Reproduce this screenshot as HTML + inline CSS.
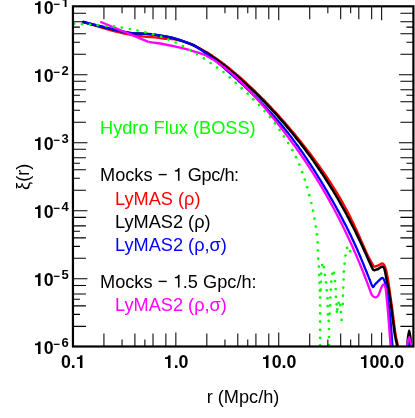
<!DOCTYPE html><html><head><meta charset="utf-8"><style>html,body{margin:0;padding:0;background:#fff;overflow:hidden}svg{display:block;position:absolute;left:0;top:0;will-change:transform}text{font-family:"Liberation Sans",sans-serif}</style></head><body>
<svg width="415" height="418" viewBox="0 0 415 418">
<rect width="415" height="418" fill="#fff"/>
<defs><clipPath id="c"><rect x="72.95" y="6.30" width="340.45" height="340.20"/></clipPath></defs>
<g clip-path="url(#c)">
<path d="M82.6,22.0 C86.9,23.3 101.5,27.7 108.7,29.7 C115.9,31.7 120.0,32.8 125.6,33.9 C131.2,35.0 137.3,35.7 142.5,36.3 C147.7,36.9 153.1,37.2 156.9,37.6 C160.7,38.0 162.3,38.5 165.3,38.8 C168.3,39.1 170.8,38.6 175.0,39.4 C179.2,40.2 186.6,42.4 190.6,43.8 C194.6,45.2 196.9,46.9 199.0,48.0 C201.1,49.1 201.9,49.5 203.3,50.3 C204.7,51.0 206.0,51.8 207.3,52.6 C208.6,53.4 209.9,54.2 211.2,55.1 C212.5,55.9 213.7,56.8 215.0,57.6 C216.2,58.5 217.5,59.4 218.7,60.3 C219.9,61.1 221.1,62.0 222.4,63.0 C223.6,63.9 224.8,64.8 225.9,65.7 C227.1,66.6 228.3,67.6 229.5,68.5 C230.7,69.5 231.8,70.4 233.0,71.4 C234.1,72.4 235.3,73.3 236.4,74.3 C237.6,75.3 238.7,76.3 239.8,77.2 C241.0,78.2 242.1,79.2 243.2,80.2 C244.3,81.2 245.4,82.2 246.5,83.2 C247.6,84.3 248.7,85.3 249.8,86.3 C250.9,87.3 252.0,88.3 253.1,89.4 C254.2,90.4 255.3,91.4 256.3,92.5 C257.4,93.5 258.5,94.6 259.5,95.6 C260.6,96.7 261.6,97.8 262.7,98.8 C263.8,99.9 264.8,100.9 265.8,102.0 C266.9,103.1 267.9,104.2 269.0,105.3 C270.0,106.3 271.0,107.4 272.0,108.5 C273.1,109.6 274.1,110.7 275.1,111.8 C276.1,112.9 277.1,114.0 278.1,115.1 C279.1,116.2 280.1,117.4 281.1,118.5 C282.1,119.6 283.1,120.7 284.1,121.8 C285.1,123.0 286.1,124.1 287.1,125.2 C288.1,126.4 289.0,127.5 290.0,128.7 C291.0,129.8 291.9,131.0 292.9,132.1 C293.9,133.3 294.8,134.4 295.8,135.6 C296.7,136.8 297.7,137.9 298.6,139.1 C299.6,140.3 300.5,141.4 301.5,142.6 C302.4,143.8 303.3,145.0 304.3,146.2 C305.2,147.3 306.1,148.5 307.0,149.7 C308.0,150.9 308.9,152.1 309.8,153.3 C310.7,154.5 311.6,155.7 312.5,156.9 C313.4,158.2 314.3,159.4 315.2,160.6 C316.1,161.8 317.0,163.0 317.9,164.3 C318.8,165.5 319.7,166.7 320.5,168.0 C321.4,169.2 322.3,170.5 323.2,171.7 C324.0,173.0 324.9,174.2 325.7,175.5 C326.6,176.7 327.5,178.0 328.3,179.3 C329.1,180.6 330.0,181.8 330.8,183.1 C331.6,184.4 332.5,185.7 333.3,187.0 C334.1,188.3 334.9,189.6 335.7,190.9 C336.5,192.2 337.3,193.5 338.1,194.9 C338.9,196.2 339.7,197.5 340.5,198.9 C341.2,200.2 342.0,201.5 342.8,202.9 C343.5,204.3 344.3,205.6 345.0,207.0 C345.8,208.4 346.5,209.7 347.2,211.1 C348.0,212.5 348.7,213.9 349.4,215.3 C350.1,216.7 350.8,218.1 351.5,219.6 C352.2,221.0 352.9,222.4 353.6,223.8 C354.3,225.3 355.0,226.7 355.6,228.2 C356.3,229.6 357.0,231.0 357.6,232.5 C358.3,234.0 358.9,235.4 359.6,236.9 C360.2,238.4 360.9,239.8 361.5,241.3 C362.2,242.8 362.8,244.2 363.5,245.7 C364.1,247.2 364.7,248.7 365.4,250.1 C366.0,251.6 366.8,253.3 367.4,254.5 C367.9,255.7 367.7,255.6 368.7,257.4 C369.7,259.3 372.4,264.1 373.3,265.6 C374.2,267.1 373.8,266.6 374.3,266.7 C374.8,266.8 375.4,266.3 376.1,266.1 C376.8,265.9 377.8,265.7 378.5,265.4 C379.2,265.1 379.9,264.5 380.5,264.1 C381.1,263.8 381.7,263.2 382.3,263.3 C382.9,263.4 383.6,264.1 384.2,264.9 C384.8,265.7 385.2,266.9 385.6,268.3 C386.1,269.7 386.4,270.9 386.9,273.5 C387.4,276.1 388.2,280.9 388.7,283.7 C389.1,286.4 389.2,287.4 389.6,290.0 C390.0,292.6 390.4,296.2 390.9,299.3 C391.3,302.4 391.9,305.7 392.3,308.9 C392.7,312.1 392.9,314.3 393.5,318.6 C394.1,322.9 395.1,331.1 395.7,334.9 C396.3,338.7 396.6,339.6 397.0,341.3 C397.4,343.1 397.6,343.6 397.8,345.4 C398.0,347.2 398.3,350.9 398.4,352.0" fill="none" stroke="#ff0000" stroke-width="2.3" stroke-linejoin="round"/>
<path d="M82.6,21.8 C86.9,22.9 101.5,26.7 108.7,28.4 C115.9,30.1 121.4,31.4 125.6,32.2 C129.8,33.0 130.8,33.1 134.0,33.4 C137.2,33.7 141.2,33.5 145.0,33.8 C148.8,34.1 152.1,34.4 156.9,35.1 C161.7,35.8 168.1,36.7 173.7,38.2 C179.3,39.7 186.4,42.3 190.6,44.0 C194.8,45.7 196.9,47.2 199.0,48.4 C201.1,49.6 202.0,50.2 203.4,51.0 C204.8,51.8 206.0,52.6 207.3,53.4 C208.6,54.3 209.9,55.1 211.2,56.0 C212.5,56.8 213.7,57.7 215.0,58.6 C216.2,59.4 217.4,60.3 218.7,61.2 C219.9,62.1 221.1,63.0 222.3,64.0 C223.5,64.9 224.7,65.8 225.9,66.8 C227.1,67.7 228.3,68.6 229.4,69.6 C230.6,70.6 231.8,71.5 232.9,72.5 C234.1,73.5 235.2,74.4 236.4,75.4 C237.5,76.4 238.6,77.4 239.8,78.4 C240.9,79.4 242.0,80.4 243.1,81.4 C244.2,82.4 245.4,83.4 246.5,84.4 C247.6,85.4 248.7,86.5 249.8,87.5 C250.9,88.5 252.0,89.6 253.0,90.6 C254.1,91.6 255.2,92.7 256.3,93.7 C257.4,94.8 258.4,95.8 259.5,96.9 C260.5,98.0 261.6,99.0 262.7,100.1 C263.7,101.2 264.8,102.2 265.8,103.3 C266.9,104.4 267.9,105.5 268.9,106.6 C270.0,107.7 271.0,108.8 272.0,109.9 C273.0,111.0 274.1,112.1 275.1,113.2 C276.1,114.3 277.1,115.4 278.1,116.5 C279.1,117.7 280.1,118.8 281.1,119.9 C282.1,121.0 283.1,122.2 284.1,123.3 C285.0,124.5 286.0,125.6 287.0,126.8 C288.0,127.9 288.9,129.1 289.9,130.2 C290.9,131.4 291.8,132.6 292.8,133.7 C293.7,134.9 294.7,136.1 295.6,137.3 C296.6,138.4 297.5,139.6 298.4,140.8 C299.4,142.0 300.3,143.2 301.2,144.4 C302.2,145.6 303.1,146.8 304.0,148.0 C304.9,149.2 305.8,150.4 306.7,151.7 C307.6,152.9 308.5,154.1 309.4,155.3 C310.3,156.6 311.2,157.8 312.1,159.0 C313.0,160.3 313.9,161.5 314.7,162.8 C315.6,164.0 316.5,165.3 317.3,166.5 C318.2,167.8 319.1,169.1 319.9,170.3 C320.8,171.6 321.6,172.9 322.5,174.1 C323.3,175.4 324.2,176.7 325.0,178.0 C325.8,179.3 326.7,180.6 327.5,181.9 C328.3,183.2 329.1,184.5 330.0,185.8 C330.8,187.1 331.6,188.4 332.4,189.7 C333.2,191.0 334.0,192.4 334.8,193.7 C335.6,195.0 336.4,196.4 337.2,197.7 C338.0,199.0 338.7,200.4 339.5,201.7 C340.3,203.1 341.1,204.4 341.8,205.8 C342.6,207.2 343.3,208.5 344.1,209.9 C344.9,211.3 345.6,212.6 346.3,214.0 C347.1,215.4 347.8,216.8 348.6,218.2 C349.3,219.6 350.0,221.0 350.7,222.4 C351.5,223.8 352.2,225.2 352.9,226.6 C353.6,228.0 354.3,229.4 355.0,230.8 C355.7,232.3 356.4,233.7 357.1,235.1 C357.8,236.6 358.5,238.0 359.2,239.4 C359.9,240.9 360.5,242.3 361.2,243.8 C361.9,245.2 362.6,246.7 363.2,248.1 C363.9,249.6 364.6,251.1 365.2,252.5 C365.9,254.0 366.5,255.5 367.2,256.9 C367.8,258.4 368.8,260.6 369.1,261.3 C369.5,262.1 368.6,260.1 369.1,261.3 C369.7,262.6 371.9,267.5 372.6,268.9 C373.3,270.3 373.2,269.8 373.5,270.0 C373.8,270.2 374.2,270.3 374.6,270.2 C375.0,270.1 375.5,269.8 376.1,269.6 C376.8,269.4 377.8,269.2 378.5,268.8 C379.2,268.4 379.9,267.9 380.5,267.5 C381.1,267.1 381.6,266.4 382.2,266.4 C382.8,266.4 383.4,266.8 383.9,267.6 C384.4,268.4 384.6,269.6 385.0,271.3 C385.4,273.0 385.8,275.4 386.2,277.6 C386.6,279.8 387.1,282.5 387.5,284.5 C387.9,286.5 388.3,287.1 388.7,289.6 C389.1,292.1 389.6,296.1 390.1,299.3 C390.6,302.5 391.1,305.7 391.5,308.9 C391.9,312.1 392.1,314.3 392.7,318.6 C393.3,322.9 394.3,331.1 394.9,334.9 C395.5,338.7 395.8,339.6 396.2,341.3 C396.6,343.1 396.8,343.6 397.0,345.4 C397.2,347.2 397.5,350.9 397.6,352.0" fill="none" stroke="#000" stroke-width="2.5" stroke-linejoin="round"/>
<path d="M82.6,21.8 C86.9,22.9 101.5,26.7 108.7,28.4 C115.9,30.1 121.4,31.4 125.6,32.2 C129.8,33.0 130.8,33.1 134.0,33.4 C137.2,33.7 141.2,33.5 145.0,33.8 C148.8,34.1 152.1,34.4 156.9,35.1 C161.7,35.8 168.1,36.7 173.7,38.2 C179.3,39.7 186.4,42.3 190.6,44.0 C194.8,45.7 196.9,47.1 199.0,48.4 C201.1,49.7 202.1,50.6 203.4,51.6 C204.8,52.6 206.0,53.5 207.3,54.4 C208.6,55.4 209.8,56.3 211.1,57.3 C212.3,58.2 213.6,59.2 214.8,60.2 C216.0,61.2 217.2,62.2 218.5,63.2 C219.7,64.2 220.9,65.2 222.1,66.2 C223.3,67.3 224.4,68.3 225.6,69.3 C226.8,70.3 228.0,71.4 229.2,72.4 C230.4,73.5 231.5,74.5 232.7,75.5 C233.9,76.6 235.0,77.6 236.2,78.7 C237.4,79.7 238.5,80.8 239.7,81.9 C240.8,82.9 242.0,84.0 243.1,85.0 C244.3,86.1 245.4,87.2 246.6,88.3 C247.7,89.3 248.8,90.4 250.0,91.5 C251.1,92.6 252.2,93.7 253.3,94.8 C254.5,95.8 255.6,96.9 256.7,98.0 C257.8,99.2 258.9,100.3 260.0,101.4 C261.1,102.5 262.2,103.6 263.3,104.7 C264.4,105.9 265.5,107.0 266.5,108.1 C267.6,109.3 268.7,110.4 269.7,111.6 C270.8,112.7 271.9,113.9 272.9,115.1 C274.0,116.2 275.0,117.4 276.0,118.6 C277.1,119.8 278.1,120.9 279.1,122.1 C280.1,123.3 281.1,124.5 282.1,125.7 C283.1,127.0 284.1,128.2 285.1,129.4 C286.1,130.6 287.1,131.9 288.1,133.1 C289.0,134.3 290.0,135.6 291.0,136.8 C291.9,138.1 292.9,139.4 293.8,140.6 C294.8,141.9 295.7,143.2 296.6,144.5 C297.6,145.7 298.5,147.0 299.4,148.3 C300.3,149.6 301.3,150.9 302.2,152.2 C303.1,153.5 304.0,154.8 304.9,156.2 C305.8,157.5 306.7,158.8 307.5,160.1 C308.4,161.5 309.3,162.8 310.2,164.1 C311.1,165.5 311.9,166.8 312.8,168.2 C313.7,169.5 314.5,170.9 315.4,172.2 C316.2,173.6 317.1,175.0 317.9,176.3 C318.8,177.7 319.6,179.1 320.5,180.4 C321.3,181.8 322.1,183.2 323.0,184.6 C323.8,186.0 324.6,187.3 325.4,188.7 C326.3,190.1 327.1,191.5 327.9,192.9 C328.7,194.3 329.5,195.7 330.3,197.1 C331.2,198.5 332.0,199.9 332.8,201.4 C333.6,202.8 334.4,204.2 335.2,205.6 C335.9,207.0 336.7,208.5 337.5,209.9 C338.3,211.3 339.1,212.7 339.9,214.2 C340.6,215.6 341.4,217.1 342.2,218.5 C342.9,220.0 343.7,221.4 344.4,222.9 C345.2,224.3 346.0,225.8 346.7,227.3 C347.4,228.8 348.2,230.2 348.9,231.7 C349.6,233.2 350.4,234.7 351.1,236.2 C351.8,237.7 352.5,239.2 353.2,240.7 C353.9,242.2 354.6,243.7 355.3,245.2 C356.0,246.8 356.7,248.3 357.4,249.8 C358.0,251.4 358.7,252.9 359.4,254.5 C360.0,256.0 360.7,257.6 361.3,259.1 C362.0,260.7 362.6,262.3 363.3,263.8 C363.9,265.4 364.6,267.0 365.2,268.6 C365.8,270.1 366.5,271.7 367.1,273.3 C367.7,274.9 368.6,277.0 369.0,278.1 C369.4,279.1 369.0,278.2 369.6,279.6 C370.3,281.1 371.9,286.0 372.8,286.8 C373.7,287.6 374.1,285.4 374.8,284.7 C375.5,283.9 376.3,283.2 377.2,282.3 C378.1,281.4 379.2,280.1 380.1,279.4 C381.0,278.6 381.7,277.8 382.3,277.8 C382.9,277.8 383.4,278.4 383.9,279.4 C384.4,280.4 384.9,281.9 385.4,283.7 C385.8,285.5 386.2,287.4 386.6,290.0 C387.0,292.6 387.6,296.2 388.0,299.3 C388.4,302.4 388.8,305.7 389.2,308.9 C389.6,312.1 389.8,312.6 390.3,318.6 C390.8,324.6 392.0,339.4 392.4,345.0 C392.8,350.6 392.6,350.8 392.7,352.0" fill="none" stroke="#0000ff" stroke-width="2.3" stroke-linejoin="round"/>
<path d="M100.3,21.8 L148.4,41.9" fill="none" stroke="#ff00ff" stroke-width="2.3" stroke-linejoin="round" />
<path d="M148.4,41.9 C149.8,42.1 152.7,42.3 156.9,43.0 C161.1,43.7 168.1,44.9 173.7,46.1 C179.3,47.3 186.4,49.2 190.6,50.3 C194.8,51.4 196.8,52.2 199.0,52.9 C201.2,53.6 202.1,53.8 203.6,54.5 C205.0,55.1 206.5,55.9 207.9,56.6 C209.3,57.4 210.7,58.2 212.1,59.0 C213.5,59.8 214.8,60.7 216.1,61.5 C217.4,62.4 218.7,63.3 220.0,64.2 C221.3,65.1 222.5,66.1 223.8,67.0 C225.0,67.9 226.2,68.9 227.4,69.9 C228.6,70.9 229.8,71.9 231.0,72.9 C232.2,73.9 233.3,74.9 234.5,75.9 C235.6,77.0 236.7,78.0 237.9,79.1 C239.0,80.2 240.1,81.2 241.2,82.3 C242.3,83.4 243.4,84.5 244.5,85.6 C245.6,86.7 246.6,87.8 247.7,88.9 C248.8,90.0 249.8,91.1 250.9,92.3 C252.0,93.4 253.0,94.5 254.0,95.7 C255.1,96.8 256.1,98.0 257.1,99.1 C258.2,100.3 259.2,101.4 260.2,102.6 C261.2,103.8 262.3,104.9 263.3,106.1 C264.3,107.3 265.3,108.5 266.3,109.6 C267.3,110.8 268.3,112.0 269.3,113.2 C270.2,114.4 271.2,115.6 272.2,116.8 C273.2,118.0 274.2,119.2 275.1,120.4 C276.1,121.6 277.1,122.8 278.1,124.1 C279.0,125.3 280.0,126.5 280.9,127.7 C281.9,129.0 282.9,130.2 283.8,131.4 C284.7,132.7 285.7,133.9 286.6,135.1 C287.6,136.4 288.5,137.6 289.4,138.9 C290.4,140.1 291.3,141.4 292.2,142.6 C293.2,143.9 294.1,145.2 295.0,146.4 C295.9,147.7 296.8,149.0 297.7,150.3 C298.6,151.5 299.5,152.8 300.4,154.1 C301.3,155.4 302.2,156.7 303.1,158.0 C304.0,159.3 304.9,160.6 305.7,161.9 C306.6,163.2 307.5,164.5 308.4,165.8 C309.2,167.1 310.1,168.5 310.9,169.8 C311.8,171.1 312.7,172.4 313.5,173.8 C314.3,175.1 315.2,176.5 316.0,177.8 C316.9,179.1 317.7,180.5 318.5,181.9 C319.4,183.2 320.2,184.6 321.0,185.9 C321.8,187.3 322.6,188.7 323.4,190.1 C324.2,191.4 325.0,192.8 325.8,194.2 C326.6,195.6 327.4,197.0 328.2,198.4 C329.0,199.8 329.8,201.2 330.5,202.6 C331.3,204.0 332.1,205.4 332.8,206.8 C333.6,208.2 334.4,209.7 335.1,211.1 C335.9,212.5 336.6,214.0 337.4,215.4 C338.1,216.8 338.9,218.3 339.6,219.7 C340.3,221.2 341.1,222.6 341.8,224.1 C342.5,225.6 343.2,227.0 343.9,228.5 C344.7,230.0 345.4,231.4 346.1,232.9 C346.8,234.4 347.5,235.9 348.2,237.4 C348.9,238.8 349.6,240.3 350.2,241.8 C350.9,243.3 351.6,244.8 352.3,246.3 C353.0,247.9 353.6,249.4 354.3,250.9 C355.0,252.4 355.6,253.9 356.3,255.4 C356.9,257.0 357.6,258.5 358.2,260.0 C358.9,261.6 359.5,263.1 360.2,264.7 C360.8,266.2 361.4,267.8 362.1,269.3 C362.7,270.9 363.3,272.4 363.9,274.0 C364.5,275.6 365.1,277.2 365.7,278.7 C366.3,280.3 367.0,282.2 367.5,283.5 C368.0,284.8 368.0,284.9 368.7,286.7 C369.4,288.5 370.8,292.9 371.6,294.5 C372.4,296.1 372.8,296.1 373.5,296.6 C374.2,297.1 375.1,297.5 375.9,297.3 C376.7,297.1 377.6,296.5 378.3,295.4 C379.0,294.3 379.6,292.2 380.2,290.6 C380.8,289.0 381.6,286.9 382.2,285.8 C382.8,284.8 383.1,284.2 383.6,284.3 C384.1,284.4 384.9,285.3 385.3,286.7 C385.7,288.1 385.9,290.4 386.1,292.5 C386.4,294.6 386.5,296.6 386.8,299.3 C387.1,302.0 387.4,305.4 387.7,308.9 C388.0,312.3 388.1,314.0 388.6,320.0 C389.1,326.0 390.1,339.7 390.5,345.0 C390.9,350.3 390.8,350.8 390.8,352.0" fill="none" stroke="#ff00ff" stroke-width="2.3" stroke-linejoin="round"/>
<path d="M406.9,349.0 C407.0,348.0 407.1,345.0 407.3,343.0 C407.5,341.0 407.6,339.1 407.9,337.0 C408.2,334.9 408.8,330.3 409.2,330.3 C409.6,330.3 410.2,334.9 410.5,337.0 C410.8,339.1 410.9,341.0 411.1,343.0 C411.3,345.0 411.4,348.0 411.5,349.0" fill="none" stroke="#000" stroke-width="2.1" stroke-linejoin="round"/>
<path d="M408.7,350.0 C408.8,348.4 409.2,340.3 409.5,340.3 C409.8,340.3 410.2,348.4 410.3,350.0" fill="none" stroke="#0000ff" stroke-width="1.6" stroke-linejoin="round"/>
<path d="M406.4,350.0 C406.5,349.2 406.6,347.2 407.0,345.0 C407.4,342.8 408.4,337.0 409.1,337.0 C409.8,337.0 410.8,342.8 411.2,345.0 C411.6,347.2 411.7,349.2 411.8,350.0" fill="none" stroke="#ff00ff" stroke-width="2.0" stroke-linejoin="round"/>
<g fill="#00ff00">
<circle cx="74.2" cy="23.8" r="1.35"/>
<circle cx="81.9" cy="24.0" r="1.35"/>
<circle cx="90.0" cy="24.5" r="1.35"/>
<circle cx="97.7" cy="25.2" r="1.35"/>
<circle cx="106.1" cy="25.9" r="1.35"/>
<circle cx="113.9" cy="26.4" r="1.35"/>
<circle cx="121.8" cy="27.6" r="1.35"/>
<circle cx="129.8" cy="29.0" r="1.35"/>
<circle cx="137.5" cy="30.5" r="1.35"/>
<circle cx="145.4" cy="32.4" r="1.35"/>
<circle cx="153.1" cy="34.3" r="1.35"/>
<circle cx="161.2" cy="36.7" r="1.35"/>
<circle cx="168.4" cy="39.6" r="1.35"/>
<circle cx="175.7" cy="42.5" r="1.35"/>
<circle cx="182.9" cy="46.1" r="1.35"/>
<circle cx="190.1" cy="50.0" r="1.35"/>
<circle cx="196.9" cy="54.1" r="1.35"/>
<circle cx="203.9" cy="58.4" r="1.35"/>
<circle cx="210.6" cy="63.0" r="1.35"/>
<circle cx="217.1" cy="67.6" r="1.35"/>
<circle cx="223.5" cy="72.0" r="1.35"/>
<circle cx="229.7" cy="77.4" r="1.35"/>
<circle cx="235.7" cy="82.9" r="1.35"/>
<circle cx="241.7" cy="88.2" r="1.35"/>
<circle cx="247.7" cy="93.7" r="1.35"/>
<circle cx="253.3" cy="99.3" r="1.35"/>
<circle cx="259.0" cy="105.1" r="1.35"/>
<circle cx="264.6" cy="111.1" r="1.35"/>
<circle cx="269.9" cy="117.1" r="1.35"/>
<circle cx="274.9" cy="123.4" r="1.35"/>
<circle cx="279.5" cy="129.9" r="1.35"/>
<circle cx="283.9" cy="136.4" r="1.35"/>
<circle cx="288.2" cy="143.1" r="1.35"/>
<circle cx="292.4" cy="150.2" r="1.35"/>
<circle cx="296.0" cy="157.2" r="1.35"/>
<circle cx="299.3" cy="164.5" r="1.35"/>
<circle cx="302.2" cy="172.2" r="1.35"/>
<circle cx="304.8" cy="179.6" r="1.35"/>
<circle cx="307.2" cy="187.2" r="1.35"/>
<circle cx="309.3" cy="195.2" r="1.35"/>
<circle cx="311.3" cy="203.0" r="1.35"/>
<circle cx="313.0" cy="210.7" r="1.35"/>
<circle cx="314.5" cy="218.7" r="1.35"/>
<circle cx="315.7" cy="226.6" r="1.35"/>
<circle cx="316.9" cy="234.3" r="1.35"/>
<circle cx="317.6" cy="242.4" r="1.35"/>
<circle cx="317.9" cy="250.5" r="1.35"/>
<circle cx="318.3" cy="258.7" r="1.35"/>
<circle cx="318.9" cy="266.7" r="1.35"/>
<circle cx="319.2" cy="274.9" r="1.35"/>
<circle cx="319.5" cy="282.8" r="1.35"/>
<circle cx="319.9" cy="290.7" r="1.35"/>
<circle cx="320.1" cy="297.5" r="1.35"/>
<circle cx="320.1" cy="305.5" r="1.35"/>
<circle cx="320.1" cy="313.4" r="1.35"/>
<circle cx="320.1" cy="321.6" r="1.35"/>
<circle cx="320.1" cy="329.8" r="1.35"/>
<circle cx="320.1" cy="337.8" r="1.35"/>
<circle cx="320.1" cy="345.3" r="1.35"/>
<circle cx="322.1" cy="265.0" r="1.35"/>
<circle cx="323.8" cy="267.2" r="1.35"/>
<circle cx="321.2" cy="273.6" r="1.35"/>
<circle cx="320.8" cy="281.8" r="1.35"/>
<circle cx="320.8" cy="289.7" r="1.35"/>
<circle cx="324.9" cy="274.9" r="1.35"/>
<circle cx="326.0" cy="282.4" r="1.35"/>
<circle cx="326.8" cy="290.3" r="1.35"/>
<circle cx="327.5" cy="298.3" r="1.35"/>
<circle cx="327.7" cy="306.2" r="1.35"/>
<circle cx="328.0" cy="314.4" r="1.35"/>
<circle cx="328.7" cy="320.9" r="1.35"/>
<circle cx="329.0" cy="329.0" r="1.35"/>
<circle cx="329.0" cy="337.0" r="1.35"/>
<circle cx="329.0" cy="345.0" r="1.35"/>
<circle cx="330.4" cy="297.5" r="1.35"/>
<circle cx="330.1" cy="305.4" r="1.35"/>
<circle cx="329.7" cy="313.7" r="1.35"/>
<circle cx="330.8" cy="289.6" r="1.35"/>
<circle cx="331.3" cy="281.7" r="1.35"/>
<circle cx="332.4" cy="273.8" r="1.35"/>
<circle cx="333.9" cy="272.9" r="1.35"/>
<circle cx="335.0" cy="281.0" r="1.35"/>
<circle cx="335.7" cy="289.0" r="1.35"/>
<circle cx="335.9" cy="296.8" r="1.35"/>
<circle cx="336.6" cy="304.4" r="1.35"/>
<circle cx="338.7" cy="302.9" r="1.35"/>
<circle cx="340.2" cy="305.1" r="1.35"/>
<circle cx="337.3" cy="309.4" r="1.35"/>
<circle cx="336.9" cy="311.6" r="1.35"/>
<circle cx="340.9" cy="312.0" r="1.35"/>
<circle cx="341.6" cy="319.9" r="1.35"/>
<circle cx="343.0" cy="295.7" r="1.35"/>
<circle cx="342.8" cy="303.9" r="1.35"/>
<circle cx="343.2" cy="287.6" r="1.35"/>
<circle cx="343.6" cy="279.5" r="1.35"/>
<circle cx="343.9" cy="271.6" r="1.35"/>
<circle cx="344.6" cy="263.7" r="1.35"/>
<circle cx="345.5" cy="255.5" r="1.35"/>
<circle cx="347.1" cy="247.9" r="1.35"/>
<circle cx="350.1" cy="251.2" r="1.35"/>
</g>
</g>
<g stroke="#000" stroke-width="1.05" fill="none">
<path d="M72.95,54.21 h13.0 M413.40,54.21 h-13.0"/>
<path d="M72.95,42.23 h7.0 M413.40,42.23 h-7.0"/>
<path d="M72.95,33.73 h13.0 M413.40,33.73 h-13.0"/>
<path d="M72.95,27.13 h7.0 M413.40,27.13 h-7.0"/>
<path d="M72.95,21.74 h13.0 M413.40,21.74 h-13.0"/>
<path d="M72.95,13.24 h13.0 M413.40,13.24 h-13.0"/>
<path d="M72.95,74.69 h14.5 M413.40,74.69 h-14.5"/>
<path d="M72.95,122.25 h13.0 M413.40,122.25 h-13.0"/>
<path d="M72.95,110.27 h7.0 M413.40,110.27 h-7.0"/>
<path d="M72.95,101.77 h13.0 M413.40,101.77 h-13.0"/>
<path d="M72.95,95.17 h7.0 M413.40,95.17 h-7.0"/>
<path d="M72.95,89.78 h13.0 M413.40,89.78 h-13.0"/>
<path d="M72.95,81.28 h13.0 M413.40,81.28 h-13.0"/>
<path d="M72.95,142.73 h14.5 M413.40,142.73 h-14.5"/>
<path d="M72.95,190.29 h13.0 M413.40,190.29 h-13.0"/>
<path d="M72.95,178.31 h7.0 M413.40,178.31 h-7.0"/>
<path d="M72.95,169.81 h13.0 M413.40,169.81 h-13.0"/>
<path d="M72.95,163.21 h7.0 M413.40,163.21 h-7.0"/>
<path d="M72.95,157.82 h13.0 M413.40,157.82 h-13.0"/>
<path d="M72.95,149.32 h13.0 M413.40,149.32 h-13.0"/>
<path d="M72.95,210.77 h14.5 M413.40,210.77 h-14.5"/>
<path d="M72.95,258.33 h13.0 M413.40,258.33 h-13.0"/>
<path d="M72.95,246.35 h7.0 M413.40,246.35 h-7.0"/>
<path d="M72.95,237.85 h13.0 M413.40,237.85 h-13.0"/>
<path d="M72.95,231.25 h7.0 M413.40,231.25 h-7.0"/>
<path d="M72.95,225.86 h13.0 M413.40,225.86 h-13.0"/>
<path d="M72.95,217.36 h13.0 M413.40,217.36 h-13.0"/>
<path d="M72.95,278.81 h14.5 M413.40,278.81 h-14.5"/>
<path d="M72.95,326.37 h13.0 M413.40,326.37 h-13.0"/>
<path d="M72.95,314.39 h7.0 M413.40,314.39 h-7.0"/>
<path d="M72.95,305.89 h13.0 M413.40,305.89 h-13.0"/>
<path d="M72.95,299.29 h7.0 M413.40,299.29 h-7.0"/>
<path d="M72.95,293.90 h13.0 M413.40,293.90 h-13.0"/>
<path d="M72.95,285.40 h13.0 M413.40,285.40 h-13.0"/>
<path d="M103.93,346.50 v-13.0 M103.93,6.30 v13.0"/>
<path d="M122.05,346.50 v-7.0 M122.05,6.30 v7.0"/>
<path d="M134.90,346.50 v-13.0 M134.90,6.30 v13.0"/>
<path d="M144.87,346.50 v-7.0 M144.87,6.30 v7.0"/>
<path d="M153.02,346.50 v-13.0 M153.02,6.30 v13.0"/>
<path d="M165.88,346.50 v-13.0 M165.88,6.30 v13.0"/>
<path d="M175.85,346.50 v-14 M175.85,6.30 v14"/>
<path d="M206.83,346.50 v-13.0 M206.83,6.30 v13.0"/>
<path d="M224.95,346.50 v-7.0 M224.95,6.30 v7.0"/>
<path d="M237.80,346.50 v-13.0 M237.80,6.30 v13.0"/>
<path d="M247.77,346.50 v-7.0 M247.77,6.30 v7.0"/>
<path d="M255.92,346.50 v-13.0 M255.92,6.30 v13.0"/>
<path d="M268.78,346.50 v-13.0 M268.78,6.30 v13.0"/>
<path d="M278.75,346.50 v-14 M278.75,6.30 v14"/>
<path d="M309.73,346.50 v-13.0 M309.73,6.30 v13.0"/>
<path d="M327.85,346.50 v-7.0 M327.85,6.30 v7.0"/>
<path d="M340.70,346.50 v-13.0 M340.70,6.30 v13.0"/>
<path d="M350.67,346.50 v-7.0 M350.67,6.30 v7.0"/>
<path d="M358.82,346.50 v-13.0 M358.82,6.30 v13.0"/>
<path d="M371.68,346.50 v-13.0 M371.68,6.30 v13.0"/>
<path d="M381.65,346.50 v-14 M381.65,6.30 v14"/>
</g>
<rect x="72.95" y="6.30" width="340.45" height="340.20" fill="none" stroke="#000" stroke-width="2.2"/>
<path d="M38.04,13.85 L40.53,13.85 L40.53,1.21 L38.50,1.21 C38.25,2.64 37.36,3.21 35.03,3.26 L35.03,4.99 L38.04,4.99 Z" fill="#000"/>
<text x="43.70" y="13.85" font-size="17.8" font-weight="bold">0</text>
<text x="53.5" y="7.85" font-size="11.5" font-weight="bold">−</text>
<path d="M64.69,7.05 L66.51,7.05 L66.51,-2.18 L65.03,-2.18 C64.85,-1.14 64.20,-0.72 62.50,-0.68 L62.50,0.58 L64.69,0.58 Z" fill="#000"/>
<path d="M38.04,81.89 L40.53,81.89 L40.53,69.25 L38.50,69.25 C38.25,70.68 37.36,71.25 35.03,71.30 L35.03,73.03 L38.04,73.03 Z" fill="#000"/>
<text x="43.70" y="81.89" font-size="17.8" font-weight="bold">0</text>
<text x="53.5" y="75.89" font-size="11.5" font-weight="bold">−</text>
<text x="61.60" y="75.09" font-size="13" font-weight="bold">2</text>
<path d="M38.04,149.93 L40.53,149.93 L40.53,137.29 L38.50,137.29 C38.25,138.72 37.36,139.29 35.03,139.34 L35.03,141.07 L38.04,141.07 Z" fill="#000"/>
<text x="43.70" y="149.93" font-size="17.8" font-weight="bold">0</text>
<text x="53.5" y="143.93" font-size="11.5" font-weight="bold">−</text>
<text x="61.60" y="143.13" font-size="13" font-weight="bold">3</text>
<path d="M38.04,217.97 L40.53,217.97 L40.53,205.33 L38.50,205.33 C38.25,206.76 37.36,207.33 35.03,207.38 L35.03,209.11 L38.04,209.11 Z" fill="#000"/>
<text x="43.70" y="217.97" font-size="17.8" font-weight="bold">0</text>
<text x="53.5" y="211.97" font-size="11.5" font-weight="bold">−</text>
<text x="61.60" y="211.17" font-size="13" font-weight="bold">4</text>
<path d="M38.04,286.01 L40.53,286.01 L40.53,273.37 L38.50,273.37 C38.25,274.80 37.36,275.37 35.03,275.42 L35.03,277.15 L38.04,277.15 Z" fill="#000"/>
<text x="43.70" y="286.01" font-size="17.8" font-weight="bold">0</text>
<text x="53.5" y="280.01" font-size="11.5" font-weight="bold">−</text>
<text x="61.60" y="279.21" font-size="13" font-weight="bold">5</text>
<path d="M38.04,354.05 L40.53,354.05 L40.53,341.41 L38.50,341.41 C38.25,342.84 37.36,343.41 35.03,343.46 L35.03,345.19 L38.04,345.19 Z" fill="#000"/>
<text x="43.70" y="354.05" font-size="17.8" font-weight="bold">0</text>
<text x="53.5" y="348.05" font-size="11.5" font-weight="bold">−</text>
<text x="61.60" y="347.25" font-size="13" font-weight="bold">6</text>
<text x="60.88" y="367.90" font-size="17.8" font-weight="bold">0.</text>
<path d="M79.96,367.90 L82.45,367.90 L82.45,355.26 L80.42,355.26 C80.17,356.69 79.28,357.26 76.95,357.31 L76.95,359.04 L79.96,359.04 Z" fill="#000"/>
<path d="M168.02,367.90 L170.51,367.90 L170.51,355.26 L168.48,355.26 C168.23,356.69 167.34,357.26 165.01,357.31 L165.01,359.04 L168.02,359.04 Z" fill="#000"/>
<text x="173.68" y="367.90" font-size="17.8" font-weight="bold">.0</text>
<path d="M265.97,367.90 L268.46,367.90 L268.46,355.26 L266.43,355.26 C266.18,356.69 265.29,357.26 262.96,357.31 L262.96,359.04 L265.97,359.04 Z" fill="#000"/>
<text x="271.63" y="367.90" font-size="17.8" font-weight="bold">0.0</text>
<path d="M363.92,367.90 L366.41,367.90 L366.41,355.26 L364.38,355.26 C364.13,356.69 363.24,357.26 360.91,357.31 L360.91,359.04 L363.92,359.04 Z" fill="#000"/>
<text x="369.58" y="367.90" font-size="17.8" font-weight="bold">00.0</text>
<text x="243" y="402.5" font-size="18.2" text-anchor="middle">r (Mpc/h)</text>
<text transform="translate(29.3,176.8) rotate(-90)" font-size="18.2" text-anchor="middle">ξ(r)</text>
<text x="100" y="134.1" font-size="18.2" fill="#00ff00">Hydro Flux (BOSS)</text>
<text y="180.7" font-size="18.2"><tspan x="100">Mocks</tspan><tspan x="187.8" letter-spacing="-0.45">Gpc/h:</tspan></text>
<path d="M177.97,180.70 L179.53,180.70 L179.53,167.91 L178.28,167.91 C178.10,169.05 177.22,170.11 174.84,170.25 L174.84,171.51 L177.97,171.51 Z" fill="#000"/>
<path d="M158.6,174.6 H166.7" stroke="#000" stroke-width="1.35"/>
<text x="115" y="204.5" font-size="18.2" fill="#ff0000">LyMAS (ρ)</text>
<text x="115" y="228.0" font-size="18.2">LyMAS2 (ρ)</text>
<text x="115" y="250.7" font-size="18.2" fill="#0000ff">LyMAS2 (ρ,σ)</text>
<text y="287.5" font-size="18.2"><tspan x="100">Mocks</tspan><tspan x="182.82">.5 Gpc/h:</tspan></text>
<path d="M177.97,287.50 L179.53,287.50 L179.53,274.71 L178.28,274.71 C178.10,275.85 177.22,276.91 174.84,277.05 L174.84,278.31 L177.97,278.31 Z" fill="#000"/>
<path d="M158.6,281.4 H166.7" stroke="#000" stroke-width="1.35"/>
<text x="115" y="311.4" font-size="18.2" fill="#ff00ff">LyMAS2 (ρ,σ)</text>
</svg></body></html>
